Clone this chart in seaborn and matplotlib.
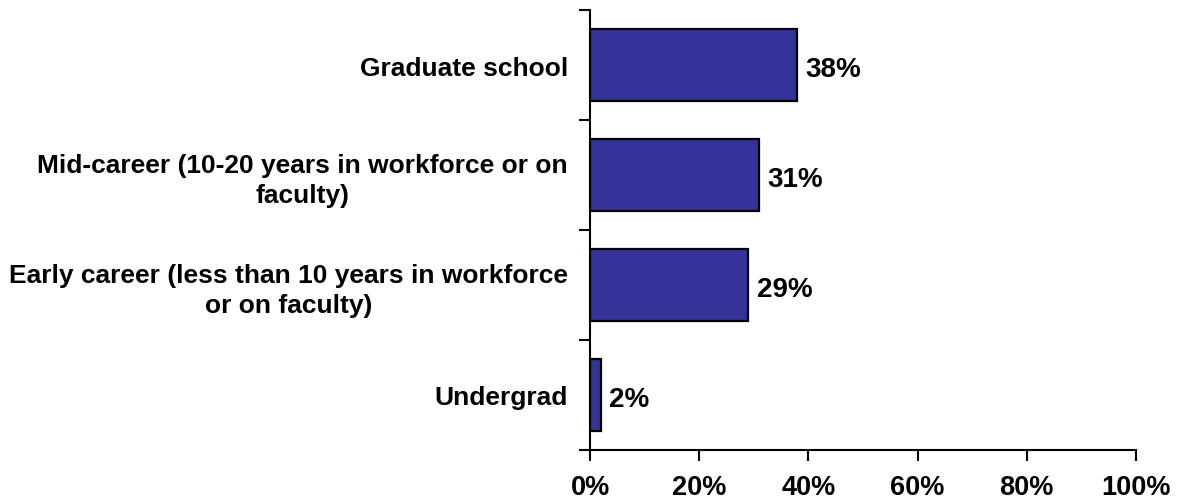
import matplotlib
matplotlib.use("Agg")
import matplotlib.pyplot as plt
import seaborn as sns
import pandas as pd

stages = [
    "Graduate school",
    "Mid-career (10-20 years in workforce or on\nfaculty)",
    "Early career (less than 10 years in workforce\nor on faculty)",
    "Undergrad",
]
shares = [38, 31, 29, 2]
x_ticks = [0, 20, 40, 60, 80, 100]
x_tick_labels = ["0%", "20%", "40%", "60%", "80%", "100%"]

sns.set_theme(style="white")
plt.rcParams["font.family"] = ["Liberation Sans", "DejaVu Sans"]

df = pd.DataFrame({"stage": stages, "share": shares})

fig = plt.figure(figsize=(11.77, 5.02), dpi=100)
ax = fig.add_axes([590 / 1177, 51 / 502, 546 / 1177, 440 / 502])

sns.barplot(data=df, x="share", y="stage", orient="h", color="#333399",
            saturation=1, width=0.66, edgecolor="black", linewidth=1.6, ax=ax)

ax.set_xlim(0, 100)
ax.set_ylim(3.5, -0.5)
ax.set_xticks(x_ticks)
ax.set_xticklabels(x_tick_labels, fontsize=19.5, fontweight="bold", color="black")
ax.set_yticks([-0.5, 0.5, 1.5, 2.5, 3.5], minor=False)
ax.set_yticklabels([])
ax.set_yticks([0, 1, 2, 3], minor=True)
ax.set_yticklabels(stages, minor=True, fontsize=19, fontweight="bold",
                   color="black", multialignment="center", linespacing=1.3)
ax.tick_params(axis="y", which="minor", length=0, pad=16)
ax.tick_params(axis="y", which="major", direction="out", length=8, width=1.5,
               color="black", left=True)
ax.tick_params(axis="x", direction="out", length=8, width=1.5, color="black",
               bottom=True, pad=9)
ax.set_xlabel("")
ax.set_ylabel("")

for side in ["top", "right"]:
    ax.spines[side].set_visible(False)
for side in ["left", "bottom"]:
    ax.spines[side].set_color("black")
    ax.spines[side].set_linewidth(1.5)

value_labels = ax.bar_label(ax.containers[0], labels=[f"{v}%" for v in shares],
                            padding=6, fontsize=20, fontweight="bold",
                            color="black")
for lbl in value_labels:
    lbl.xyann = (6, -3)

fig.savefig("out.png", dpi=100, facecolor="white")
